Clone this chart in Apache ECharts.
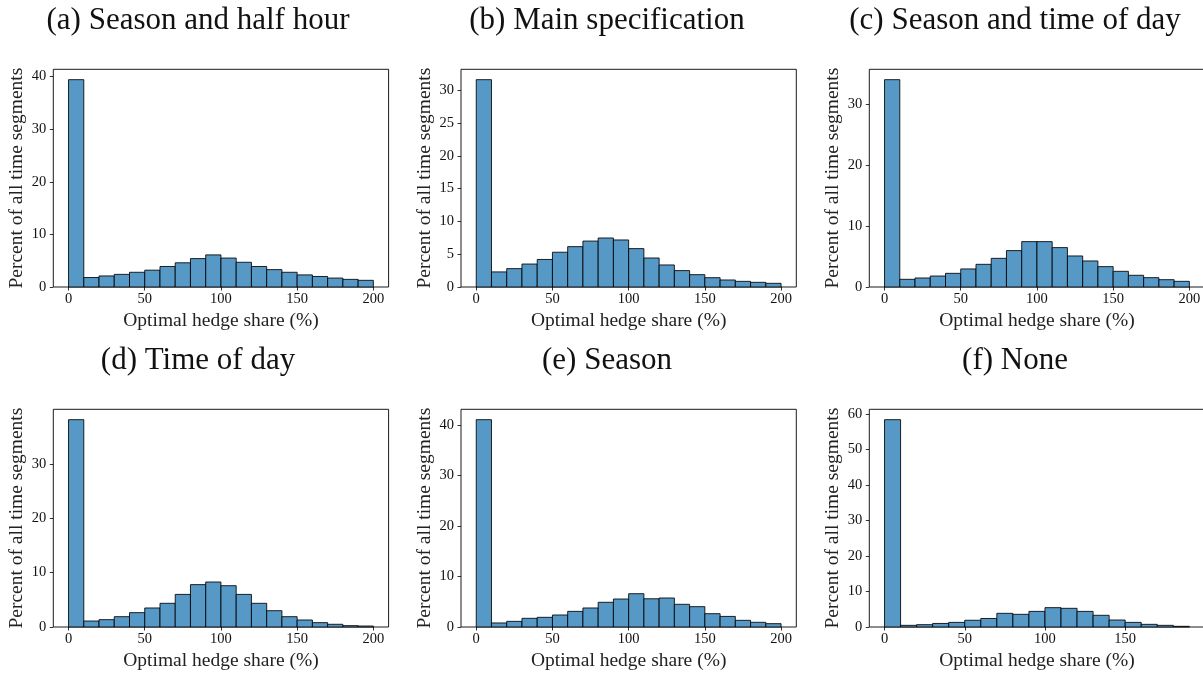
<!DOCTYPE html>
<html>
<head>
<meta charset="utf-8">
<script src="https://cdn.jsdelivr.net/npm/echarts@6/dist/echarts.min.js"></script>
<style>
  html, body { margin: 0; padding: 0; background: #fff; overflow: hidden; }
  /* the figure is slightly wider than the viewport: the right frame edge of the last column falls just outside */
  #chart { width: 1210px; height: 675px; }
</style>
</head>
<body>
<div id="chart"></div>
<script>
// Histogram bin edges (optimal hedge share, %)
const binEdges = [0, 10, 20, 30, 40, 50, 60, 70, 80, 90, 100, 110, 120, 130, 140, 150, 160, 170, 180, 190, 200];
const binEdgesNone = [0, 10, 20, 30, 40, 50, 60, 70, 80, 90, 100, 110, 120, 130, 140, 150, 160, 170, 180, 190];

// Percent of all time segments in each bin
const seasonHalfHour = [39.4, 1.8, 2.1, 2.4, 2.8, 3.2, 3.9, 4.6, 5.4, 6.1, 5.5, 4.7, 3.9, 3.3, 2.8, 2.3, 2.0, 1.7, 1.45, 1.27];
const mainSpec       = [31.6, 2.3, 2.8, 3.5, 4.2, 5.3, 6.15, 7.0, 7.47, 7.17, 5.85, 4.42, 3.36, 2.5, 1.88, 1.42, 1.07, 0.86, 0.71, 0.56];
const seasonTimeDay  = [34.0, 1.26, 1.48, 1.8, 2.24, 2.96, 3.72, 4.7, 5.97, 7.44, 7.44, 6.46, 5.09, 4.27, 3.34, 2.57, 1.92, 1.53, 1.2, 0.93];
const timeOfDay      = [38.16, 1.1, 1.35, 1.9, 2.64, 3.5, 4.36, 6.0, 7.8, 8.28, 7.6, 6.0, 4.36, 3.0, 1.9, 1.29, 0.8, 0.5, 0.25, 0.18];
const seasonOnly     = [41.1, 0.8, 1.12, 1.72, 1.92, 2.38, 3.1, 3.77, 4.9, 5.55, 6.6, 5.6, 5.75, 4.5, 4.03, 2.64, 2.1, 1.32, 0.93, 0.66];
const noControls     = [58.4, 0.47, 0.66, 1.0, 1.3, 1.9, 2.4, 3.85, 3.57, 4.4, 5.45, 5.26, 4.4, 3.3, 1.97, 1.3, 0.75, 0.47, 0.19];

// Tick labels
const xTicks = [0, 50, 100, 150, 200];
const xTicksNone = [0, 50, 100, 150];
const yTicks40 = [0, 10, 20, 30, 40];
const yTicks30by5 = [0, 5, 10, 15, 20, 25, 30];
const yTicks30 = [0, 10, 20, 30];
const yTicks60 = [0, 10, 20, 30, 40, 50, 60];

// Panel titles and axis names
const panelTitles = ['(a) Season and half hour', '(b) Main specification', '(c) Season and time of day',
                     '(d) Time of day', '(e) Season', '(f) None'];
const xName = 'Optimal hedge share (%)';
const yName = 'Percent of all time segments';

const panels = [
  { title: panelTitles[0], edges: binEdges, values: seasonHalfHour, xt: xTicks, yt: yTicks40 },
  { title: panelTitles[1], edges: binEdges, values: mainSpec, xt: xTicks, yt: yTicks30by5 },
  { title: panelTitles[2], edges: binEdges, values: seasonTimeDay, xt: xTicks, yt: yTicks30 },
  { title: panelTitles[3], edges: binEdges, values: timeOfDay, xt: xTicks, yt: yTicks30 },
  { title: panelTitles[4], edges: binEdges, values: seasonOnly, xt: xTicks, yt: yTicks40 },
  { title: panelTitles[5], edges: binEdgesNone, values: noControls, xt: xTicksNone, yt: yTicks60 }
];

// Layout of the 3 x 2 grid of axes
const colLeft = [53.3, 461, 869.3];
const colTitleX = [198, 607, 1015];
const rowTop = [69.3, 409.3];
const rowTitleY = [21, 361];
const axW = 335.3, axH = 217.7;

const FONT = 'Liberation Serif';
const BAR_FILL = '#5698c6';
const BAR_EDGE = 'rgba(0,0,0,0.85)';

const grids = [], xAxes = [], yAxes = [], series = [], graphics = [];

panels.forEach((p, i) => {
  const col = i % 3, row = Math.floor(i / 3);
  grids.push({
    left: colLeft[col], top: rowTop[row], width: axW, height: axH,
    outerBoundsMode: 'none', containLabel: false,
    show: true, borderColor: '#000', borderWidth: 0.9, backgroundColor: 'transparent'
  });
  // 5% padding around the bin range on the x axis
  const lo = p.edges[0], hi = p.edges[p.edges.length - 1];
  const pad = (hi - lo) * 0.05;
  xAxes.push({
    type: 'value', gridIndex: i, min: lo - pad, max: hi + pad,
    axisLine: { show: false, onZero: false },
    splitLine: { show: false },
    axisTick: { show: true, length: 3.5, inside: false, customValues: p.xt, lineStyle: { color: '#000', width: 0.8 } },
    axisLabel: { customValues: p.xt, margin: 5, fontFamily: FONT, fontSize: 14.5, color: '#111' },
    name: xName, nameLocation: 'middle', nameGap: 24,
    nameTextStyle: { fontFamily: FONT, fontSize: 19.5, color: '#222' }
  });
  const ymax = Math.max.apply(null, p.values) * 1.05;
  yAxes.push({
    type: 'value', gridIndex: i, min: 0, max: ymax,
    axisLine: { show: false, onZero: false },
    splitLine: { show: false },
    axisTick: { show: true, length: 3.5, inside: false, customValues: p.yt, lineStyle: { color: '#000', width: 0.8 } },
    axisLabel: { customValues: p.yt, margin: 7, fontFamily: FONT, fontSize: 14.5, color: '#111' },
    name: yName, nameLocation: 'middle', nameGap: 26,
    nameTextStyle: { fontFamily: FONT, fontSize: 19.5, color: '#222' }
  });
  // Each bar spans [left edge, right edge] with its percentage as height
  const data = p.values.map((v, k) => [p.edges[k], p.edges[k + 1], v]);
  series.push({
    type: 'custom', xAxisIndex: i, yAxisIndex: i, data: data,
    renderItem: function (params, api) {
      const a = api.coord([api.value(0), 0]);
      const b = api.coord([api.value(1), api.value(2)]);
      return {
        type: 'rect',
        shape: { x: a[0], y: b[1], width: b[0] - a[0], height: a[1] - b[1] },
        style: { fill: BAR_FILL, stroke: BAR_EDGE, lineWidth: 1 }
      };
    }
  });
  graphics.push({
    type: 'text', x: colTitleX[col], y: rowTitleY[row],
    style: { text: p.title, fontFamily: FONT, fontSize: 31, fill: '#111', textAlign: 'center', textVerticalAlign: 'middle' }
  });
});

const chart = echarts.init(document.getElementById('chart'), null, { renderer: 'canvas' });
chart.setOption({
  animation: false,
  backgroundColor: '#fff',
  textStyle: { fontFamily: FONT },
  grid: grids,
  xAxis: xAxes,
  yAxis: yAxes,
  series: series,
  graphic: graphics
});
</script>
</body>
</html>
